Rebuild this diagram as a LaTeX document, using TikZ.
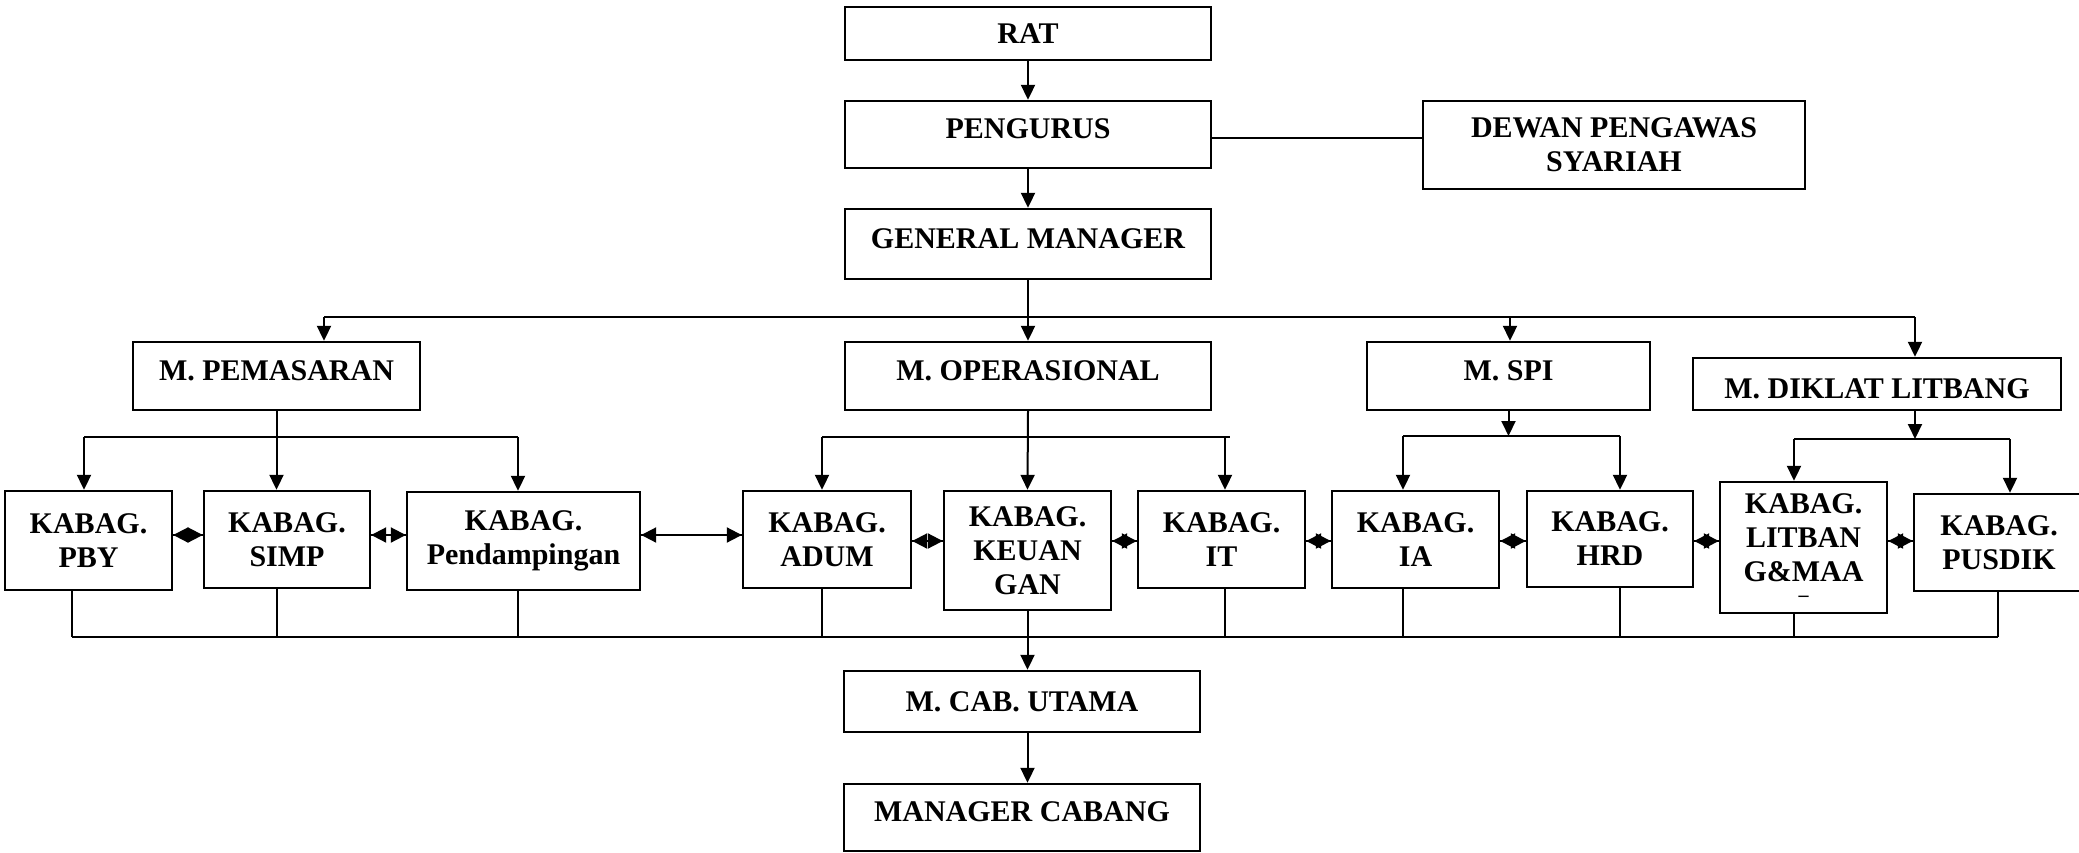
\documentclass[tikz,border=0pt]{standalone}
\usepackage{fontspec}
\setmainfont{Liberation Serif}
\usetikzlibrary{arrows.meta}
\begin{document}
\begin{tikzpicture}[x=0.5pt,y=-0.5pt,
  box/.style={draw, line width=1.2pt, align=center, inner sep=0pt, font=\bfseries\fontsize{15}{17}\selectfont},
  up/.style={text depth=5.5pt},
  down/.style={text height=14.9pt, text depth=0pt},
  con/.style={line width=1pt},
  arr/.style={con, -{Triangle[length=7.5pt,width=7pt]}},
  harr/.style={con, -{Triangle[length=7.5pt,width=7.5pt]}}
]
\useasboundingbox (0,0) rectangle (2079,852);

% top
\node[box, minimum width=183pt, minimum height=26.5pt] (rat) at (1028,33.5) {RAT};
\node[box, up, minimum width=183pt, minimum height=33.5pt] (peng) at (1028,134.5) {PENGURUS};
\node[box, minimum width=191pt, minimum height=44pt] (dewan) at (1614,145) {DEWAN PENGAWAS\\SYARIAH};
\node[box, up, minimum width=183pt, minimum height=35pt] (gm) at (1028,244) {GENERAL MANAGER};

% managers
\node[box, up, minimum width=143.5pt, minimum height=34pt] (mpem) at (276.5,376) {M. PEMASARAN};
\node[box, up, minimum width=183pt, minimum height=34pt] (mops) at (1028,376) {M. OPERASIONAL};
\node[box, up, minimum width=141.5pt, minimum height=34pt] (mspi) at (1508.5,376) {M. SPI};
\node[box, down, minimum width=184pt, minimum height=26pt] (mdik) at (1877,384) {M. DIKLAT LITBANG};

% kabag row
\node[box, minimum width=83.5pt, minimum height=49.5pt] (pby) at (88.5,540.5) {KABAG.\\PBY};
\node[box, minimum width=83pt, minimum height=48.5pt] (simp) at (287,539.5) {KABAG.\\SIMP};
\node[box, minimum width=116.5pt, minimum height=49pt] (pend) at (523.5,541) {KABAG.\\Pendampingan};
\node[box, minimum width=84pt, minimum height=48.5pt] (adum) at (827,539.5) {KABAG.\\ADUM};
\node[box, minimum width=83.5pt, minimum height=59.5pt] (keu) at (1027.5,550.5) {KABAG.\\KEUAN\\GAN};
\node[box, minimum width=83.5pt, minimum height=48.5pt] (it) at (1221.5,539.5) {KABAG.\\IT};
\node[box, minimum width=83.5pt, minimum height=48.5pt] (ia) at (1415.5,539.5) {KABAG.\\IA};
\node[box, minimum width=83pt, minimum height=48pt] (hrd) at (1610,539) {KABAG.\\HRD};
\node[box, minimum width=83.5pt, minimum height=65.5pt] (litb) at (1803.5,547.5) {KABAG.\\LITBAN\\G\&MAA\\[-7pt]{\fontsize{10}{10}\selectfont –}};
\node[box, minimum width=85pt, minimum height=48.5pt] (pusd) at (1999,542.5) {KABAG.\\PUSDIK};

% branch
\node[box, minimum width=178pt, minimum height=30.5pt] (mcab) at (1022,701.5) {M. CAB. UTAMA};
\node[box, up, minimum width=178pt, minimum height=33.5pt] (mgr) at (1022,817.5) {MANAGER CABANG};

% helper coordinates
\coordinate (yPD) at (0,138);
\coordinate (b1) at (324,317);
\coordinate (b2) at (1915,317);
\coordinate (b3) at (1510,317);
\coordinate (p1) at (84,437);
\coordinate (p2) at (518,437);
\coordinate (o1) at (822,437);
\coordinate (o2) at (1230,437);
\coordinate (o3) at (1225,437);
\coordinate (s1) at (1403,436);
\coordinate (s2) at (1620,436);
\coordinate (d0) at (1915,439);
\coordinate (d1) at (1794,439);
\coordinate (d2) at (2010,439);
\coordinate (h1) at (0,535);
\coordinate (h2) at (0,541);
\coordinate (u1) at (72,637);
\coordinate (u2) at (1998,637);

% top connectors
\draw[arr] (rat) -- (peng);
\draw[arr] (peng) -- (gm);
\draw[con] (peng.east |- yPD) -- (dewan.west |- yPD);

% main bus
\draw[con] (gm.south) -- (gm.south |- b1);
\draw[con] (b1) -- (b2);
\draw[arr] (b1) -- (b1 |- mpem.north);
\draw[arr] (gm.south |- b1) -- (mops.north);
\draw[arr] (b3) -- (b3 |- mspi.north);
\draw[arr] (b2) -- (b2 |- mdik.north);

% pemasaran
\draw[con] (mpem.south) -- (mpem.south |- p1);
\draw[con] (p1) -- (p2);
\draw[arr] (p1) -- (p1 |- pby.north);
\draw[arr] (mpem.south |- p1) -- (mpem.south |- simp.north);
\draw[arr] (p2) -- (p2 |- pend.north);

% operasional
\draw[arr] (mops.south) -- (keu.north);
\draw[con] (o1) -- (o2);
\draw[arr] (o1) -- (o1 |- adum.north);
\draw[arr] (o3) -- (o3 |- it.north);

% spi
\draw[arr] (mspi.south) -- (mspi.south |- s1);
\draw[con] (s1) -- (s2);
\draw[arr] (s1) -- (s1 |- ia.north);
\draw[arr] (s2) -- (s2 |- hrd.north);

% diklat
\draw[arr] (d0 |- mdik.south) -- (d0);
\draw[con] (d1) -- (d2);
\draw[arr] (d1) -- (d1 |- litb.north);
\draw[arr] (d2) -- (d2 |- pusd.north);

% horizontal two-way links (one tip per direction)
\foreach \a/\b/\h in {pby/simp/h1, simp/pend/h1, pend/adum/h1, adum/keu/h2, keu/it/h2, it/ia/h2, ia/hrd/h2, hrd/litb/h2, litb/pusd/h2}{
  \draw[harr] (\a.east |- \h) -- (\b.west |- \h);
  \draw[harr] (\b.west |- \h) -- (\a.east |- \h);
}

% bottom bus
\draw[con] (u1) -- (u2);
\draw[con] (u1 |- pby.south) -- (u1);
\draw[con] (mpem.south |- simp.south) -- (mpem.south |- u1);
\draw[con] (p2 |- pend.south) -- (p2 |- u1);
\draw[con] (o1 |- adum.south) -- (o1 |- u1);
\draw[con] (o3 |- it.south) -- (o3 |- u1);
\draw[con] (s1 |- ia.south) -- (s1 |- u1);
\draw[con] (s2 |- hrd.south) -- (s2 |- u1);
\draw[con] (d1 |- litb.south) -- (d1 |- u1);
\draw[con] (u2 |- pusd.south) -- (u2);

% branch connectors
\draw[arr] (keu.south) -- (keu.south |- mcab.north);
\draw[arr] (keu.south |- mcab.south) -- (keu.south |- mgr.north);
\end{tikzpicture}
\end{document}
